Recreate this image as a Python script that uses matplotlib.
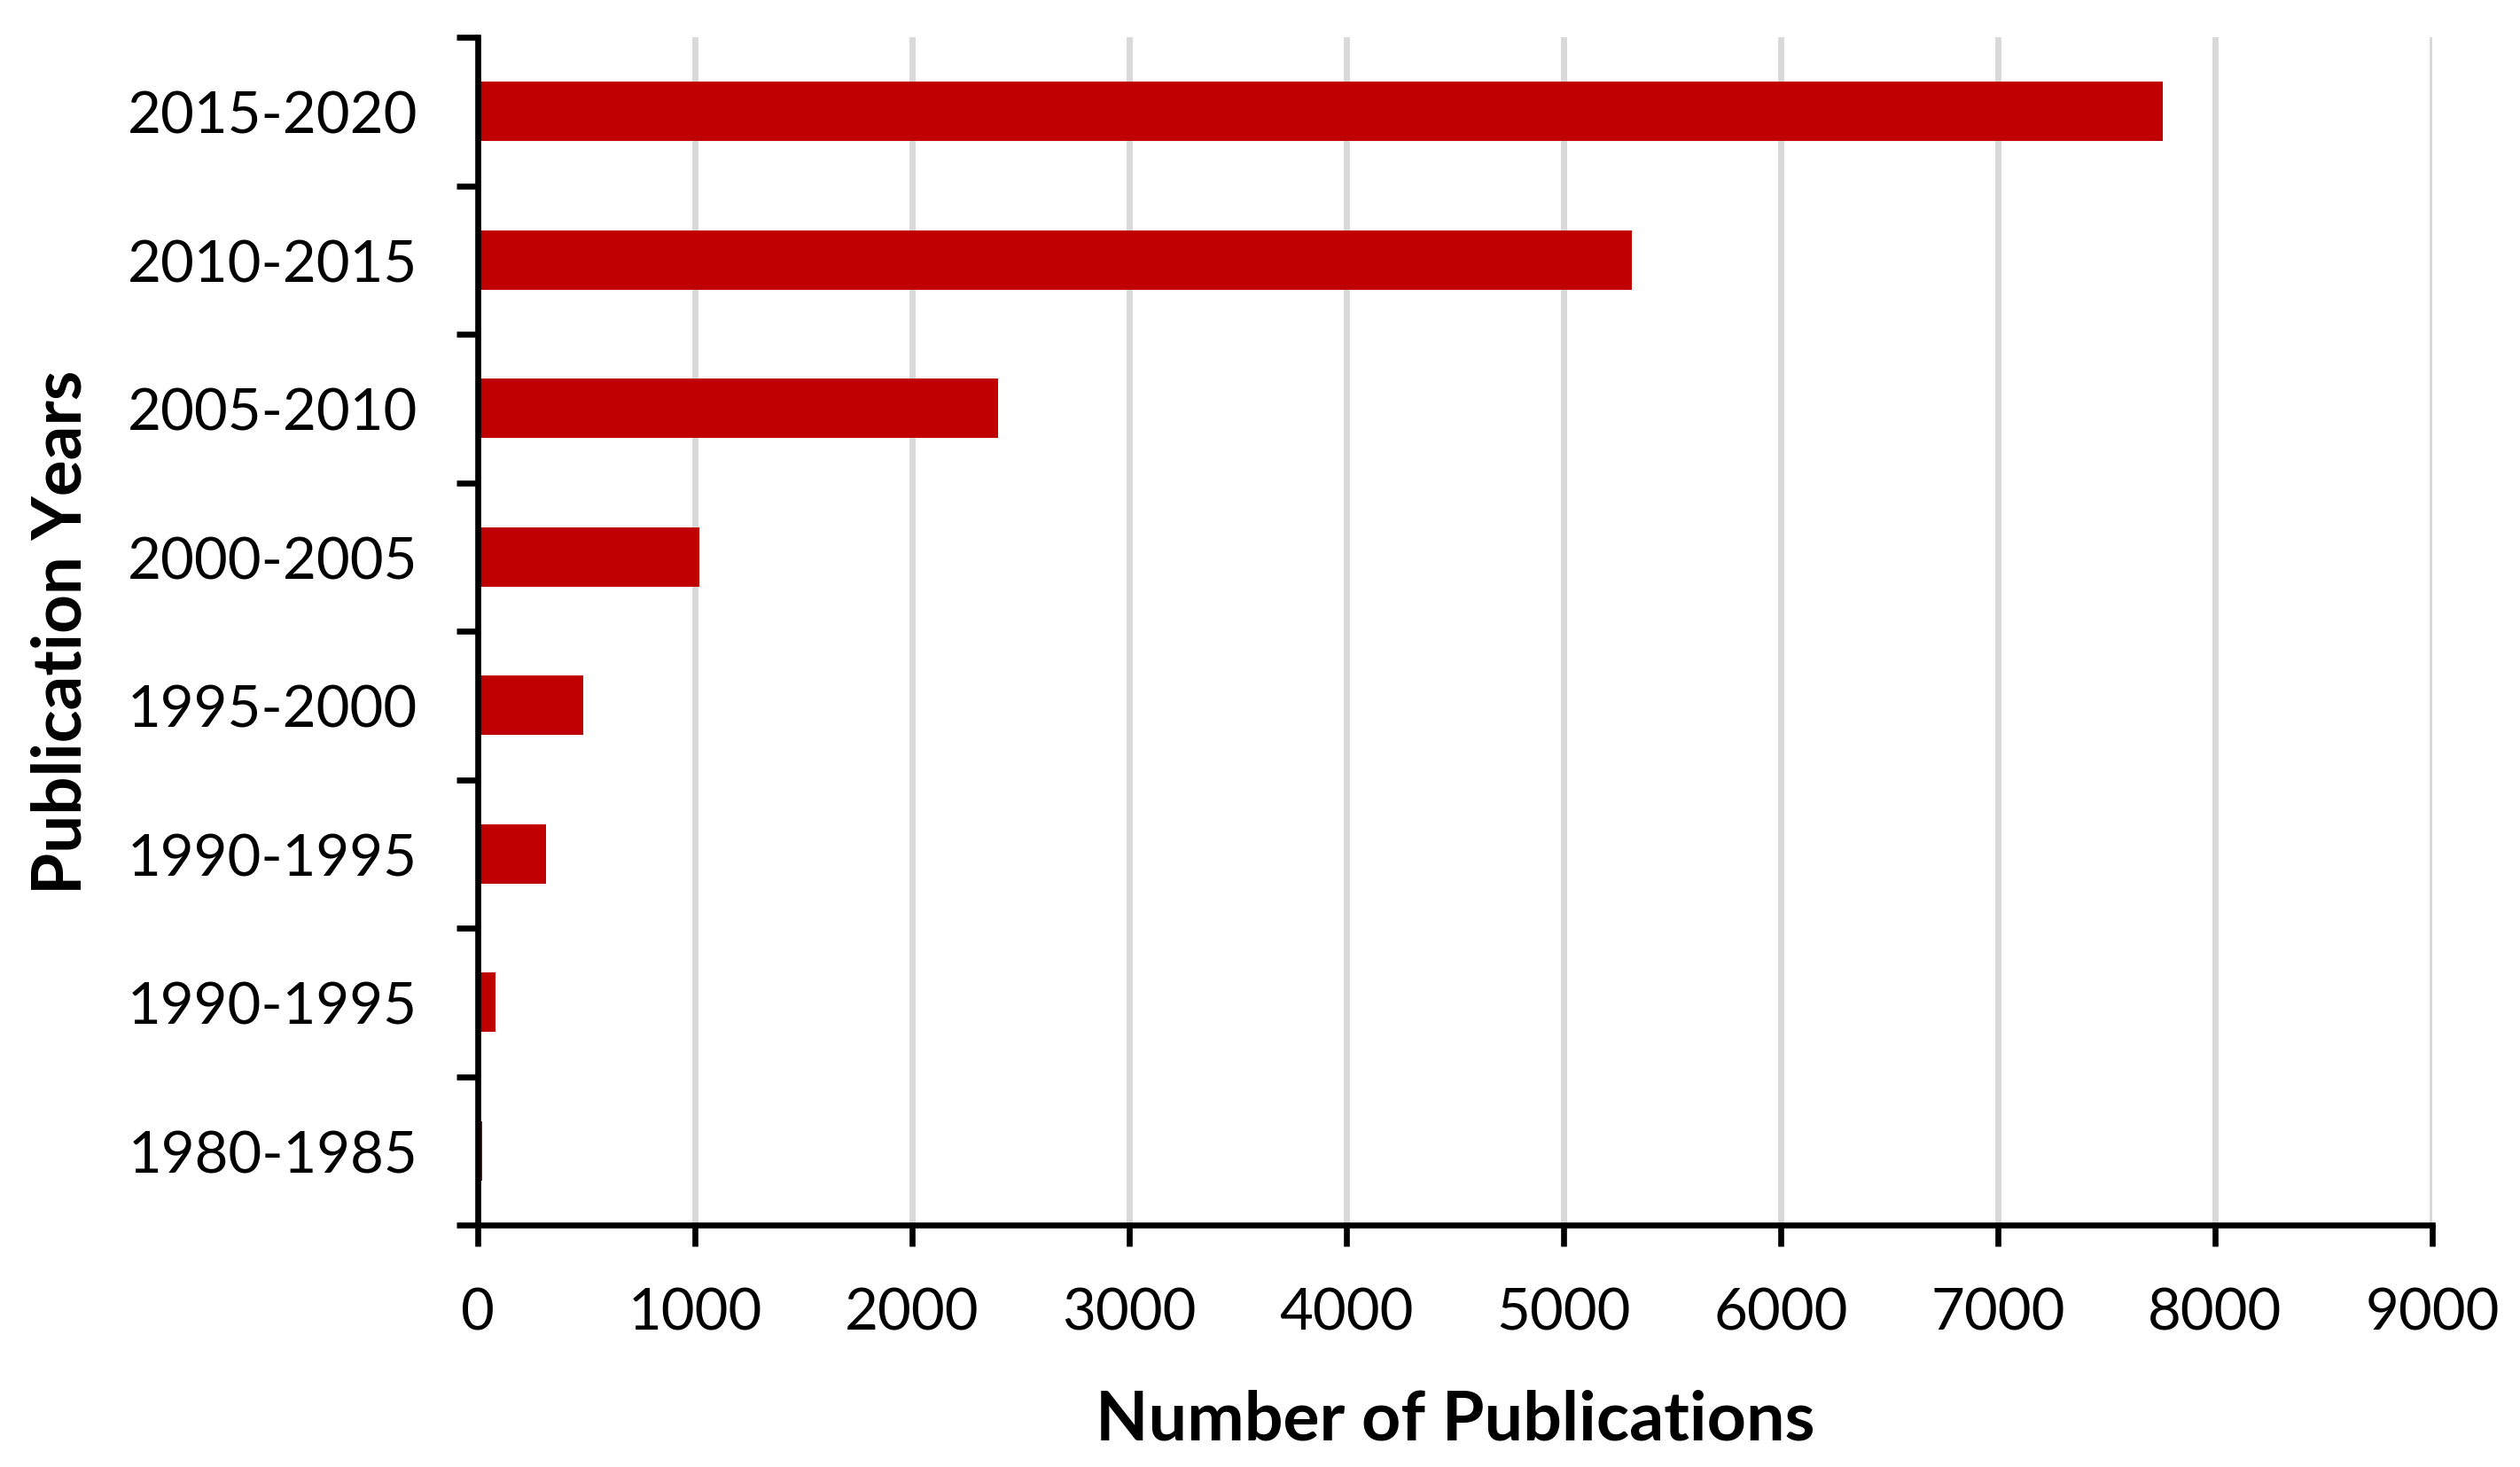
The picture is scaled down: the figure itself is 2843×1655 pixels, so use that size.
import matplotlib
matplotlib.use("Agg")
import matplotlib.pyplot as plt
import numpy as np

# Data (bottom to top)
categories = ["1980-1985", "1990-1995", "1990-1995", "1995-2000",
              "2000-2005", "2005-2010", "2010-2015", "2015-2020"]
publications = [20, 80, 316, 486, 1020, 2395, 5314, 7760]
x_ticks = [0, 1000, 2000, 3000, 4000, 5000, 6000, 7000, 8000, 9000]

plt.rcParams['font.family'] = ['Lato', 'DejaVu Sans']

W, H = 2843, 1656
dpi = 100
fig = plt.figure(figsize=(W / dpi, H / dpi), dpi=dpi)
left, right = 539 / W, 2744 / W
bottom, top = 1 - 1383 / H, 1 - 43 / H
ax = fig.add_axes([left, bottom, right - left, top - bottom])

pos = np.arange(len(categories))
ax.barh(pos, publications, height=0.4, color="#C00000", zorder=3)

ax.set_xlim(0, 9000)
ax.set_ylim(-0.5, len(categories) - 0.5)

# x axis
ax.set_xticks(x_ticks)
ax.set_xticklabels([str(t) for t in x_ticks])
ax.xaxis.grid(True, color="#D9D9D9", linewidth=5, zorder=0)
ax.set_axisbelow(True)

# y axis: ticks at category boundaries, labels at centers
ax.set_yticks(np.arange(-0.5, len(categories), 1.0))
ax.set_yticklabels([])
ax.set_yticks(pos, minor=True)
ax.set_yticklabels(categories, minor=True)
ax.tick_params(axis='y', which='minor', length=0, pad=49, labelsize=47)
ax.tick_params(axis='y', which='major', length=17, width=4.8, direction='out')
ax.tick_params(axis='x', which='major', length=17, width=4.8, direction='out',
               pad=33, labelsize=47)

for s in ['top', 'right']:
    ax.spines[s].set_visible(False)
for s in ['left', 'bottom']:
    ax.spines[s].set_linewidth(4.8)
    ax.spines[s].set_color('black')
    ax.spines[s].set_zorder(5)

ax.set_xlabel("Number of Publications", fontsize=55.5, fontweight='bold', va='top')
ax.xaxis.set_label_coords(0.5, -0.138)
ax.set_ylabel("Publication Years", fontsize=55, fontweight='bold')
ax.yaxis.set_label_coords(-0.197, 0.5)

fig.savefig("out.png", dpi=dpi, facecolor='white')
